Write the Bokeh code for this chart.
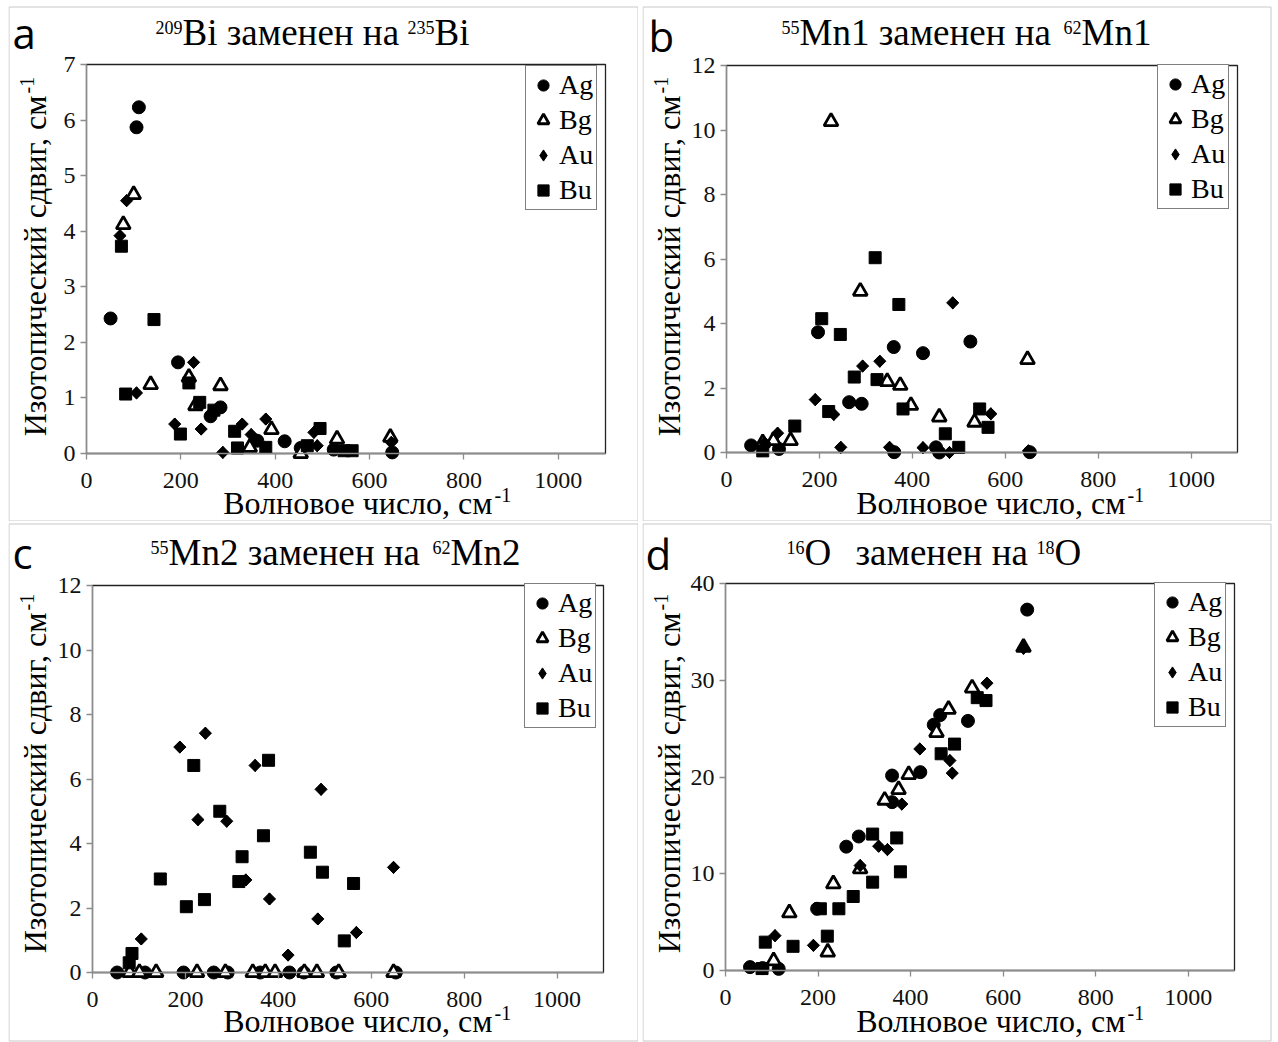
import math
from bokeh.plotting import figure
from bokeh.layouts import column, row
from bokeh.models import Label, Range1d, FixedTicker, Spacer, BoxAnnotation
from bokeh.embed import file_html
from bokeh.resources import INLINE

# ---------------- data ----------------
SERIES = ["Ag", "Bg", "Au", "Bu"]
X_TICKS = [0, 200, 400, 600, 800, 1000]
X_MAX = 1100

# panel a : 209Bi -> 235Bi
A_AG_X = [51, 106, 111, 194, 263, 284, 362, 420, 454, 524, 648]
A_AG_Y = [2.43, 5.87, 6.23, 1.64, 0.67, 0.83, 0.23, 0.22, 0.10, 0.07, 0.02]
A_BG_X = [78, 100, 136, 217, 231, 284, 346, 392, 454, 531, 644]
A_BG_Y = [4.12, 4.66, 1.24, 1.37, 0.86, 1.22, 0.11, 0.43, 0.0, 0.26, 0.29]
A_AU_X = [71, 85, 106, 187, 227, 243, 289, 330, 349, 380, 482, 489, 646]
A_AU_Y = [3.92, 4.55, 1.09, 0.53, 1.64, 0.44, 0.02, 0.53, 0.34, 0.62, 0.38, 0.14, 0.20]
A_BU_X = [74, 83, 143, 199, 217, 240, 270, 314, 320, 380, 468, 495, 546, 563]
A_BU_Y = [3.73, 1.07, 2.41, 0.35, 1.27, 0.92, 0.78, 0.40, 0.10, 0.11, 0.14, 0.45, 0.05, 0.05]
A_Y_TICKS = [0, 1, 2, 3, 4, 5, 6, 7]

# panel b : 55Mn1 -> 62Mn1
B_AG_X = [53, 113, 197, 264, 291, 360, 361, 423, 451, 458, 525, 653]
B_AG_Y = [0.22, 0.11, 3.73, 1.56, 1.51, 3.27, 0.01, 3.08, 0.16, 0.0, 3.44, 0.01]
B_BG_X = [78, 101, 138, 225, 288, 346, 374, 397, 458, 534, 648]
B_BG_Y = [0.30, 0.37, 0.37, 10.26, 5.0, 2.2, 2.08, 1.46, 1.1, 0.94, 2.88]
B_AU_X = [82, 110, 191, 231, 246, 293, 330, 351, 423, 480, 487, 569, 650]
B_AU_Y = [0.3, 0.6, 1.64, 1.18, 0.16, 2.68, 2.83, 0.16, 0.15, 0.0, 4.64, 1.2, 0.05]
B_BU_X = [78, 147, 205, 220, 245, 275, 320, 324, 371, 380, 471, 500, 545, 563]
B_BU_Y = [0.05, 0.82, 4.15, 1.27, 3.66, 2.34, 6.04, 2.26, 4.59, 1.35, 0.58, 0.16, 1.35, 0.78]
B_Y_TICKS = [0, 2, 4, 6, 8, 10, 12]

# panel c : 55Mn2 -> 62Mn2
C_AG_X = [53, 113, 196, 261, 291, 361, 424, 455, 525, 653]
C_AG_Y = [0, 0, 0, 0, 0, 0, 0, 0, 0, 0]
C_BG_X = [80, 101, 137, 225, 286, 345, 372, 393, 456, 483, 530, 648]
C_BG_Y = [0, 0, 0, 0, 0, 0, 0, 0, 0, 0, 0, 0]
C_AU_X = [105, 188, 227, 243, 289, 330, 350, 381, 421, 485, 492, 568, 648]
C_AU_Y = [1.04, 6.99, 4.74, 7.42, 4.69, 2.87, 6.42, 2.28, 0.54, 1.66, 5.68, 1.24, 3.26]
C_BU_X = [79, 85, 146, 202, 218, 241, 274, 315, 322, 368, 379, 469, 495, 542, 562]
C_BU_Y = [0.3, 0.59, 2.9, 2.04, 6.42, 2.26, 5.0, 2.82, 3.59, 4.24, 6.58, 3.73, 3.11, 0.98, 2.76]
C_Y_TICKS = [0, 2, 4, 6, 8, 10, 12]

# panel d : 16O -> 18O
D_AG_X = [53, 80, 115, 198, 261, 288, 360, 360, 421, 450, 464, 524, 652]
D_AG_Y = [0.35, 0.25, 0.17, 6.38, 12.8, 13.85, 20.15, 17.4, 20.5, 25.4, 26.4, 25.8, 37.3]
D_BG_X = [104, 138, 221, 233, 291, 344, 374, 396, 456, 482, 533, 644]
D_BG_Y = [1.0, 5.96, 1.9, 8.96, 10.5, 17.6, 18.7, 20.25, 24.6, 27.0, 29.2, 33.4]
D_AU_X = [107, 190, 291, 331, 350, 381, 420, 485, 490, 565, 644]
D_AU_Y = [3.6, 2.6, 10.85, 12.85, 12.5, 17.2, 22.9, 21.7, 20.4, 29.7, 33.3]
D_BU_X = [79, 86, 146, 205, 220, 245, 276, 318, 318, 370, 378, 466, 495, 544, 563]
D_BU_Y = [0.2, 2.93, 2.5, 6.38, 3.55, 6.38, 7.65, 14.1, 9.13, 13.7, 10.2, 22.4, 23.4, 28.2, 27.9]
D_Y_TICKS = [0, 10, 20, 30, 40]

X_LABEL = "Волновое число, см"
Y_LABEL = "Изотопический сдвиг, см"
UNIT_SUP = "-1"

SERIF = "Liberation Serif"
SANS = "Open Sans"
FW, FH = 630, 521   # size of each panel canvas
BASE_SHIFT = 0.36   # correction of the rendered alphabetic baseline (fraction of font size)


def make_panel(cfg, data, y_ticks):
    ox, oy = cfg["origin"]
    l, r, t, b = cfg["area"]
    fl, fr, ft, fb = l - ox, r - ox, t - oy, b - oy
    ymax = y_ticks[-1]
    sx = (fr - fl) / X_MAX
    sy = (fb - ft) / ymax
    xr = Range1d(-fl / sx, X_MAX + (FW - fr) / sx)
    yr = Range1d(-(FH - fb) / sy, ymax + ft / sy)

    p = figure(width=FW, height=FH, output_backend="svg", toolbar_location=None,
               x_range=xr, y_range=yr, min_border=0,
               min_border_left=0, min_border_right=0,
               min_border_top=0, min_border_bottom=0,
               background_fill_color="white", border_fill_color="white")
    p.title.visible = False
    p.xgrid.grid_line_color = None
    p.ygrid.grid_line_color = None
    p.outline_line_color = None

    def loc(X, Y):
        return X - ox, FH - (Y - oy)

    # light grey panel frame
    bl, bt = loc(cfg["box"][0], cfg["box"][2])
    br, bb = loc(cfg["box"][1], cfg["box"][3])
    p.add_layout(BoxAnnotation(left=bl, right=br, top=bt, bottom=bb,
                               left_units="screen", right_units="screen",
                               top_units="screen", bottom_units="screen",
                               fill_color=None, fill_alpha=0,
                               line_color="#c8c8c8", line_alpha=1.0,
                               line_width=1, level="underlay"))

    # plot-area box (dark top / right edges)
    p.add_layout(BoxAnnotation(left=0, right=X_MAX, bottom=0, top=ymax,
                               fill_color=None, fill_alpha=0,
                               line_color="#222222", line_alpha=1.0,
                               line_width=1.3, level="underlay"))

    p.xaxis.fixed_location = 0
    p.yaxis.fixed_location = 0
    p.xaxis.bounds = (0, X_MAX)
    p.yaxis.bounds = (0, ymax)
    p.xaxis.ticker = FixedTicker(ticks=X_TICKS)
    p.yaxis.ticker = FixedTicker(ticks=y_ticks)
    for ax in (p.xaxis[0], p.yaxis[0]):
        ax.axis_line_color = "#8c8c8c"
        ax.axis_line_width = 1.3
        ax.major_tick_line_color = "#8c8c8c"
        ax.major_tick_line_width = 1.3
        ax.major_tick_out = 6
        ax.major_tick_in = 0
        ax.minor_tick_line_color = None
        ax.major_label_text_font = SERIF
        ax.major_label_text_font_size = "24px"
        ax.major_label_text_color = "#111111"
    p.xaxis.major_label_standoff = 13
    p.yaxis.major_label_standoff = 5

    (agx, agy), (bgx, bgy), (aux, auy), (bux, buy) = data
    p.scatter(agx, agy, marker="circle", size=13, fill_color="black",
              line_color="black", legend_label=SERIES[0])
    p.scatter(bgx, bgy, marker="triangle", size=14, fill_color="white",
              line_color="black", line_width=2.8, legend_label=SERIES[1])
    p.scatter(aux, auy, marker="square", angle=math.pi / 4, size=8.6,
              fill_color="black", line_color="black")
    p.scatter(aux, auy, marker="diamond", size=12, fill_color="black",
              line_color="black", legend_label=SERIES[2])
    p.scatter(bux, buy, marker="square", size=12, fill_color="black",
              line_color="black", legend_label=SERIES[3])

    lg = p.legend[0]
    lg.location = loc(cfg["legend"][0], cfg["legend"][1])
    lg.margin = 0
    lg.padding = 3
    lg.spacing = 3
    lg.glyph_width = 28
    lg.glyph_height = 30
    lg.label_standoff = 2
    lg.label_text_font = SERIF
    lg.label_text_font_size = "28px"
    lg.label_text_color = "black"
    lg.border_line_color = "black"
    lg.border_line_width = 1.5
    lg.background_fill_alpha = 1.0

    def txt(text, X, Y, px, font=SERIF, align="left", rotated=False):
        d = BASE_SHIFT * px
        if rotated:
            X = X - d
        else:
            Y = Y - d
        x, y = loc(X, Y)
        p.add_layout(Label(x=x, y=y, x_units="screen", y_units="screen", text=text,
                           text_font=font, text_font_size=f"{px}px", text_align=align,
                           text_baseline="alphabetic",
                           angle=(math.pi / 2 if rotated else 0.0),
                           text_color="black"))

    # panel letter
    txt(cfg["letter"], cfg["letter_at"][0], cfg["letter_at"][1], 42, font=SANS)
    # title pieces: (text, X, is_sup)
    tb = cfg["title_base"]
    for text, X, sup in cfg["title"]:
        if sup:
            txt(text, X, tb - 12, 18)
        else:
            txt(text, X, tb, 37)
    # x axis title
    xe, xb = cfg["xlabel"]
    txt(X_LABEL, xe, xb, 32, align="right")
    txt(UNIT_SUP, xe + 2, xb - 12, 20)
    # y axis title (rotated)
    yx, ye = cfg["ylabel"]
    txt(Y_LABEL, yx, ye, 32, align="right", rotated=True)
    txt(UNIT_SUP, yx - 12, ye - 2, 20, rotated=True)
    return p


cfg_a = dict(origin=(8, 0), box=(8.5, 637.5, 6.5, 520.5),
             area=(86, 605, 64, 453), legend=(525, 210),
             letter="a", letter_at=(12, 47), title_base=45,
             title=[("209", 155, True), ("Bi заменен на", 182, False),
                    ("235", 407, True), ("Bi", 434, False)],
             xlabel=(492, 514), ylabel=(46, 95))
cfg_b = dict(origin=(642, 0), box=(642.5, 1270.5, 6.5, 520.5),
             area=(726, 1237, 65, 452), legend=(1157, 209),
             letter="b", letter_at=(648, 50), title_base=45,
             title=[("55", 781, True), ("Mn1 заменен на", 799, False),
                    ("62", 1063, True), ("Mn1", 1081, False)],
             xlabel=(1125, 514), ylabel=(680, 95))
cfg_c = dict(origin=(8, 521), box=(8.5, 637.5, 523.5, 1040.5),
             area=(92, 603, 585, 972), legend=(524, 728),
             letter="c", letter_at=(12, 567), title_base=565,
             title=[("55", 150, True), ("Mn2 заменен на", 168, False),
                    ("62", 432, True), ("Mn2", 450, False)],
             xlabel=(492, 1032), ylabel=(46, 612))
cfg_d = dict(origin=(642, 521), box=(642.5, 1270.5, 523.5, 1040.5),
             area=(725, 1234, 583, 970), legend=(1154, 727),
             letter="d", letter_at=(645, 568), title_base=565,
             title=[("16", 786, True), ("O", 804, False),
                    ("заменен на", 855, False),
                    ("18", 1036, True), ("O", 1054, False)],
             xlabel=(1125, 1032), ylabel=(680, 612))

pa = make_panel(cfg_a, [(A_AG_X, A_AG_Y), (A_BG_X, A_BG_Y), (A_AU_X, A_AU_Y), (A_BU_X, A_BU_Y)], A_Y_TICKS)
pb = make_panel(cfg_b, [(B_AG_X, B_AG_Y), (B_BG_X, B_BG_Y), (B_AU_X, B_AU_Y), (B_BU_X, B_BU_Y)], B_Y_TICKS)
pc = make_panel(cfg_c, [(C_AG_X, C_AG_Y), (C_BG_X, C_BG_Y), (C_AU_X, C_AU_Y), (C_BU_X, C_BU_Y)], C_Y_TICKS)
pd = make_panel(cfg_d, [(D_AG_X, D_AG_Y), (D_BG_X, D_BG_Y), (D_AU_X, D_AU_Y), (D_BU_X, D_BU_Y)], D_Y_TICKS)

layout = column(
    row(Spacer(width=8), pa, Spacer(width=4), pb),
    row(Spacer(width=8), pc, Spacer(width=4), pd),
)

open("out.html", "w").write(file_html(layout, INLINE))
